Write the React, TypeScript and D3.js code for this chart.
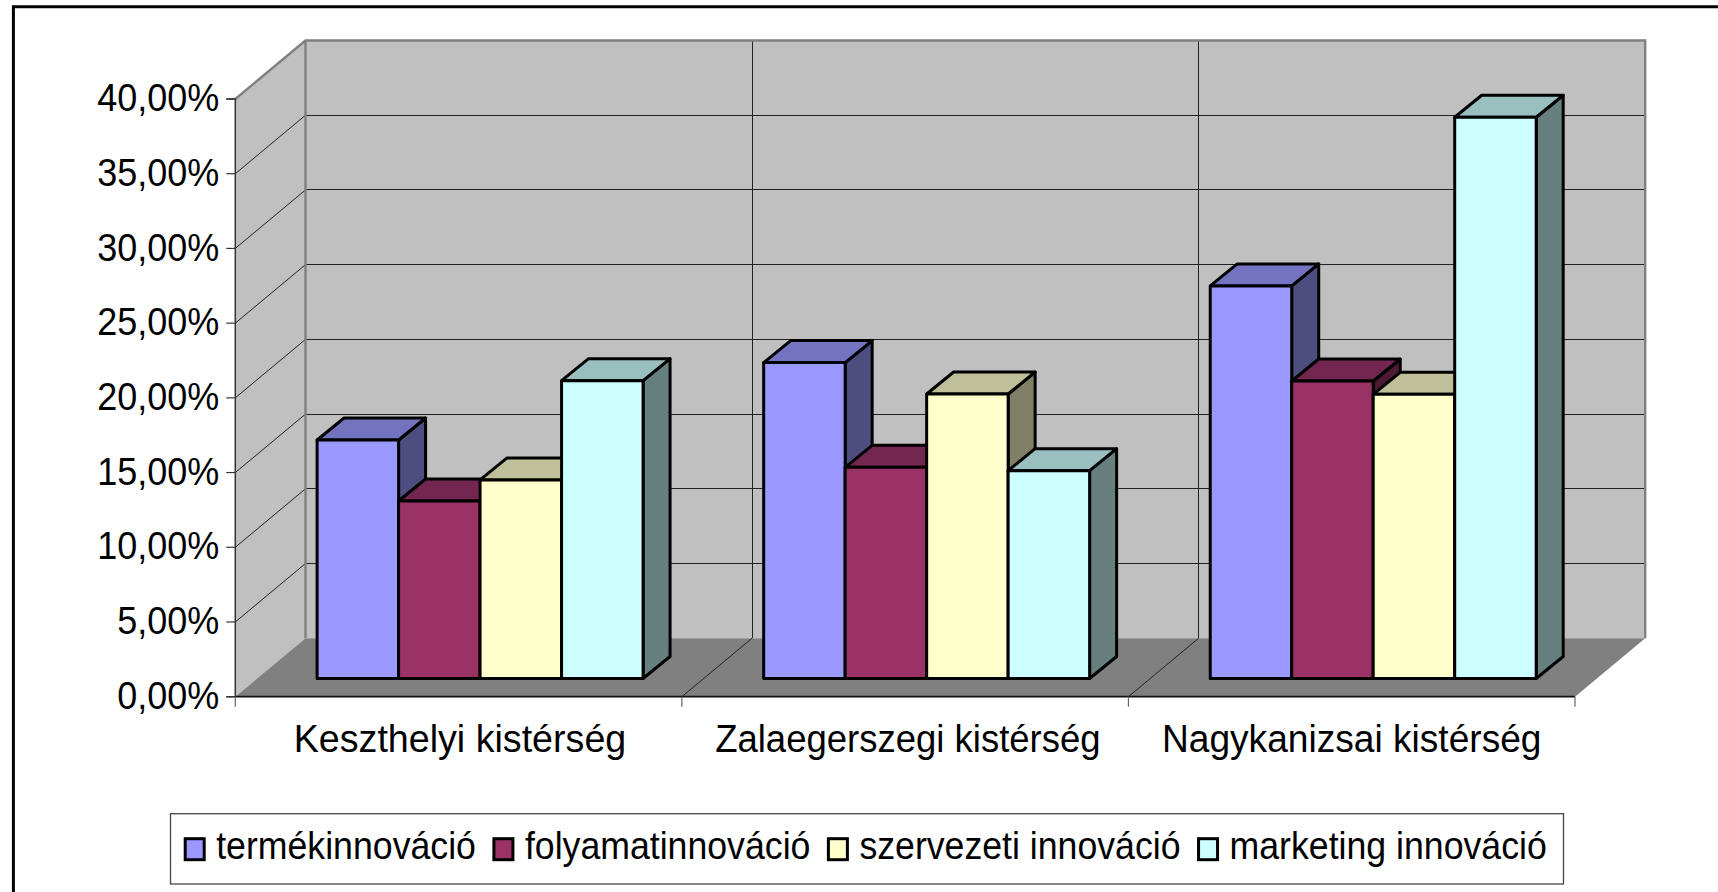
import * as d3 from "d3";
import React, { useEffect, useRef } from "react";

const categories = [
  "Keszthelyi kistérség",
  "Zalaegerszegi kistérség",
  "Nagykanizsai kistérség",
];
const seriesNames = [
  "termékinnováció",
  "folyamatinnováció",
  "szervezeti innováció",
  "marketing innováció",
];
const termekValues = [15.96, 21.14, 26.27];
const folyamatValues = [11.88, 14.13, 19.91];
const szervezetiValues = [13.29, 19.04, 19.02];
const marketingValues = [19.93, 13.91, 37.56];
const seriesValues = [termekValues, folyamatValues, szervezetiValues, marketingValues];
const yTicks = [0, 5, 10, 15, 20, 25, 30, 35, 40];

const frontColors = ["#9999ff", "#993366", "#ffffcc", "#ccffff"];
const topColors = ["#7373bf", "#732650", "#bfbf99", "#99bfbf"];
const sideColors = ["#4d4d80", "#4d1a33", "#808066", "#668080"];

const width = 1718;
const height = 892;
const plotLeft = 235.3;
const plotRight = 1575;
const plotBottom = 696.7;
const plotTop = 99;
const wallX = 70.2; // how far the back wall is pushed
const wallY = 58.5;
const barShiftX = 21.5; // bars stand a bit behind the front edge
const barShiftY = 18.2;
const barDepthX = 27;
const barDepthY = 22;
const fontFamily = "'Liberation Sans', Arial, sans-serif";
// the reference text is tall and a little narrow, so it gets squeezed sideways
const fontSize = 39;
const squeeze = 0.923;
const legendSqueeze = 0.915;
const categorySqueeze = [0.965, 0.936, 0.952];
const categoryNudge = [1.4, 2.7, 0];

const poly = (pts: number[][]) => pts.map((p) => p.join(",")).join(" ");

const App = () => {
  const svgRef = useRef<SVGSVGElement>(null);

  useEffect(() => {
    const svg = d3.select(svgRef.current);
    svg.selectAll("*").remove();

    const x = d3.scaleBand<string>().domain(categories).range([plotLeft, plotRight]);
    const inner = d3
      .scaleBand<string>()
      .domain(seriesNames)
      .range([0, x.step()])
      .paddingOuter(0.74)
      .paddingInner(0);
    const y = d3.scaleLinear().domain([0, 40]).range([plotBottom, plotTop]);
    const boundaries = d3.range(categories.length + 1).map((i) => plotLeft + i * x.step());

    // outer frame, only left and top are in the picture
    svg
      .append("path")
      .attr("d", `M13.4,${height} V6.7 H${width}`)
      .attr("fill", "none")
      .attr("stroke", "#000")
      .attr("stroke-width", 3);

    // walls and floor
    svg
      .append("polygon")
      .attr(
        "points",
        poly([
          [plotLeft, plotBottom],
          [plotLeft + wallX, plotBottom - wallY],
          [plotLeft + wallX, plotTop - wallY],
          [plotLeft, plotTop],
        ]),
      )
      .attr("fill", "#c0c0c0");
    svg
      .append("rect")
      .attr("x", plotLeft + wallX)
      .attr("y", plotTop - wallY)
      .attr("width", plotRight - plotLeft)
      .attr("height", plotBottom - plotTop)
      .attr("fill", "#c0c0c0");
    svg
      .append("polygon")
      .attr(
        "points",
        poly([
          [plotLeft, plotBottom],
          [plotRight, plotBottom],
          [plotRight + wallX, plotBottom - wallY],
          [plotLeft + wallX, plotBottom - wallY],
        ]),
      )
      .attr("fill", "#808080");

    // gridlines
    const gridTicks = yTicks.filter((t) => t > 0 && t < 40);
    const grid = svg.append("g").attr("stroke", "#222").attr("stroke-width", 1);
    grid
      .selectAll("line.side")
      .data(gridTicks)
      .join("line")
      .attr("class", "side")
      .attr("x1", plotLeft)
      .attr("x2", plotLeft + wallX)
      .attr("y1", (d) => y(d))
      .attr("y2", (d) => y(d) - wallY);
    grid
      .selectAll("line.back")
      .data(gridTicks)
      .join("line")
      .attr("class", "back")
      .attr("shape-rendering", "crispEdges")
      .attr("x1", plotLeft + wallX)
      .attr("x2", plotRight + wallX - 1)
      .attr("y1", (d) => y(d) - wallY)
      .attr("y2", (d) => y(d) - wallY);
    grid
      .selectAll("line.vert")
      .data(boundaries.slice(1, -1))
      .join("line")
      .attr("class", "vert")
      .attr("shape-rendering", "crispEdges")
      .attr("x1", (d) => d + wallX)
      .attr("x2", (d) => d + wallX)
      .attr("y1", plotTop - wallY)
      .attr("y2", plotBottom - wallY);
    grid
      .selectAll("line.floor")
      .data(boundaries.slice(1, -1))
      .join("line")
      .attr("class", "floor")
      .attr("x1", (d) => d)
      .attr("x2", (d) => d + wallX)
      .attr("y1", plotBottom)
      .attr("y2", plotBottom - wallY);

    // wall edges
    svg
      .append("path")
      .attr(
        "d",
        `M${plotLeft},${plotTop} L${plotLeft + wallX},${plotTop - wallY} H${plotRight + wallX} V${plotBottom - wallY}` +
          ` M${plotLeft + wallX},${plotTop - wallY} V${plotBottom - wallY}`,
      )
      .attr("fill", "none")
      .attr("stroke", "#808080")
      .attr("stroke-width", 2.4);

    // bars, left to right so later ones cover the sides of earlier ones
    const barData = categories.flatMap((cat, c) =>
      seriesNames.map((name, s) => {
        const x0 = x(cat)! + inner(name)! + barShiftX;
        return {
          s,
          x0,
          x1: x0 + inner.bandwidth(),
          y0: plotBottom - barShiftY,
          y1: y(seriesValues[s][c]) - barShiftY,
        };
      }),
    );
    const bars = svg
      .append("g")
      .attr("stroke", "#000")
      .attr("stroke-width", 3)
      .attr("stroke-linejoin", "round")
      .selectAll("g")
      .data(barData)
      .join("g");
    bars
      .append("polygon")
      .attr("fill", (d) => sideColors[d.s])
      .attr("points", (d) =>
        poly([
          [d.x1, d.y1],
          [d.x1 + barDepthX, d.y1 - barDepthY],
          [d.x1 + barDepthX, d.y0 - barDepthY],
          [d.x1, d.y0],
        ]),
      );
    bars
      .append("polygon")
      .attr("fill", (d) => topColors[d.s])
      .attr("points", (d) =>
        poly([
          [d.x0, d.y1],
          [d.x0 + barDepthX, d.y1 - barDepthY],
          [d.x1 + barDepthX, d.y1 - barDepthY],
          [d.x1, d.y1],
        ]),
      );
    bars
      .append("rect")
      .attr("fill", (d) => frontColors[d.s])
      .attr("x", (d) => d.x0)
      .attr("y", (d) => d.y1)
      .attr("width", (d) => d.x1 - d.x0)
      .attr("height", (d) => d.y0 - d.y1);

    // axes
    const yAxis = d3
      .axisLeft(y)
      .tickValues(yTicks)
      .tickSize(9)
      .tickPadding(7)
      .offset(0)
      .tickFormat((d) => `${(+d).toFixed(2).replace(".", ",")}%`);
    const yG = svg.append("g").attr("transform", `translate(${plotLeft},0)`).call(yAxis);
    yG.select(".domain").attr("stroke", "#333").attr("stroke-width", 1.5);
    yG.selectAll("line").attr("stroke", "#333").attr("stroke-width", 1.2);
    yG.selectAll("text")
      .attr("font-family", fontFamily)
      .attr("font-size", fontSize)
      .attr("fill", "#000")
      .attr("dy", 12.2)
      .attr("x", -16 / squeeze)
      .attr("transform", `scale(${squeeze},1)`);

    const xAxis = d3.axisBottom(x).tickSize(0).tickPadding(29).offset(0);
    const xG = svg.append("g").attr("transform", `translate(0,${plotBottom})`).call(xAxis);
    xG.select(".domain").attr("stroke", "#111").attr("stroke-width", 1.8).attr("d", `M${plotLeft},0H${plotRight}`);
    xG.selectAll("text")
      .attr("font-family", fontFamily)
      .attr("font-size", fontSize)
      .attr("fill", "#000")
      .attr("dy", 26)
      .attr("transform", (_, i) => `translate(${categoryNudge[i]},0) scale(${categorySqueeze[i]},1)`);
    svg
      .append("g")
      .attr("stroke", "#666")
      .attr("stroke-width", 1.2)
      .selectAll("line")
      .data(boundaries)
      .join("line")
      .attr("x1", (d) => d)
      .attr("x2", (d) => d)
      .attr("y1", plotBottom)
      .attr("y2", plotBottom + 10);

    // legend
    svg
      .append("rect")
      .attr("x", 170.5)
      .attr("y", 813.7)
      .attr("width", 1393)
      .attr("height", 70.3)
      .attr("fill", "#fff")
      .attr("stroke", "#444")
      .attr("stroke-width", 1.3);
    let cursor = 185.2;
    seriesNames.forEach((name, s) => {
      svg
        .append("rect")
        .attr("x", cursor)
        .attr("y", 838.7)
        .attr("width", 19)
        .attr("height", 21)
        .attr("fill", frontColors[s])
        .attr("stroke", "#000")
        .attr("stroke-width", 3);
      const label = svg
        .append("text")
        .attr("transform", `translate(${cursor + 31},859.3) scale(${legendSqueeze},1)`)
        .attr("font-family", fontFamily)
        .attr("font-size", fontSize)
        .attr("fill", "#000")
        .text(name);
      const len = (label.node() as SVGTextElement).getComputedTextLength() * legendSqueeze;
      cursor += 31 + len + 18;
    });
  }, []);

  return (
    <svg
      ref={svgRef}
      width={width}
      height={height}
      style={{ position: "absolute", left: 0, top: 0, background: "#fff" }}
    />
  );
};

export default App;
